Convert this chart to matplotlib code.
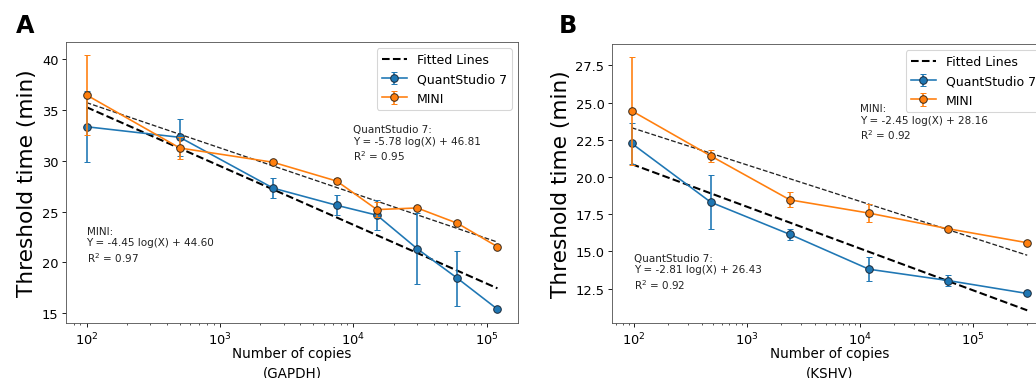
import numpy as np
import matplotlib
matplotlib.use("Agg")
import matplotlib.pyplot as plt

# ---- data: panel A (GAPDH) ----
a_copies = [100, 500, 2500, 7500, 15000, 30000, 60000, 120000]
a_qs = [33.33, 32.29, 27.3, 25.61, 24.64, 21.35, 18.45, 15.4]
a_qs_err = [3.5, 1.8, 1.0, 1.0, 1.5, 3.5, 2.7, 0.1]
a_mini = [36.45, 31.24, 29.84, 27.99, 25.19, 25.35, 23.85, 21.54]
a_mini_err = [3.95, 1.1, 0.2, 0.3, 0.7, 0.2, 0.2, 0.2]
a_qs_fit = (-5.78, 46.81, 0.95)
a_mini_fit = (-4.45, 44.60, 0.97)

# ---- data: panel B (KSHV) ----
b_copies = [96, 480, 2400, 12000, 60000, 300000]
b_qs = [22.25, 18.3, 16.14, 13.8, 13.04, 12.17]
b_qs_err = [1.4, 1.8, 0.35, 0.8, 0.4, 0.1]
b_mini = [24.44, 21.41, 18.46, 17.57, 16.52, 15.58]
b_mini_err = [3.64, 0.4, 0.5, 0.58, 0.15, 0.1]
b_qs_fit = (-2.81, 26.43, 0.92)
b_mini_fit = (-2.45, 28.16, 0.92)

DPI = 78
fig = plt.figure(figsize=(1036 / DPI, 379 / DPI), dpi=DPI)
plt.rcParams['font.family'] = ['DejaVu Sans']

axA = fig.add_axes([0.0637, 0.1451, 0.4363, 0.7414])
axB = fig.add_axes([0.5907, 0.1451, 0.4199, 0.7362])

BLUE = '#1f77b4'
ORANGE = '#ff7f0e'


def panel(ax, x, qs, qs_err, mini, mini_err, qs_fit, mini_fit, gene,
          qs_txt_pos, mini_txt_pos):
    x = np.asarray(x, dtype=float)
    xf = np.array([x.min(), x.max()])
    ax.plot(xf, qs_fit[0] * np.log10(xf) + qs_fit[1], '--', color='black',
            lw=1.9, label='Fitted Lines', zorder=1)
    ax.plot(xf, mini_fit[0] * np.log10(xf) + mini_fit[1], '--', color='#222222',
            lw=1.2, zorder=1)
    ax.errorbar(x, qs, yerr=qs_err, fmt='-o', color=BLUE, ecolor=BLUE,
                mec='#1a2a3a', mew=0.9, ms=7, lw=1.5, elinewidth=1.5,
                capsize=2.5, label='QuantStudio 7', zorder=2)
    ax.errorbar(x, mini, yerr=mini_err, fmt='-o', color=ORANGE, ecolor=ORANGE,
                mec='#3a2a1a', mew=0.9, ms=7, lw=1.5, elinewidth=1.5,
                capsize=2.5, label='MINI', zorder=3)
    ax.set_xscale('log')
    ax.text(qs_txt_pos[0], qs_txt_pos[1],
            'QuantStudio 7:\nY = %.2f log(X) + %.2f\nR$^2$ = %.2f' % qs_fit,
            fontsize=9.6, va='top', ha='left', color='#222222')
    ax.text(mini_txt_pos[0], mini_txt_pos[1],
            'MINI:\nY = %.2f log(X) + %.2f\nR$^2$ = %.2f' % mini_fit,
            fontsize=9.6, va='top', ha='left', color='#222222')
    ax.set_ylabel('Threshold time (min)', fontsize=20)
    ax.set_xlabel('Number of copies\n(%s)' % gene, fontsize=12.5, labelpad=-1.5,
                  linespacing=1.5)
    ax.tick_params(labelsize=12)
    for s in ax.spines.values():
        s.set_color('#555555')
    ax.legend(loc='upper right', fontsize=11.5)


panel(axA, a_copies, a_qs, a_qs_err, a_mini, a_mini_err, a_qs_fit, a_mini_fit,
      'GAPDH', (1e4, 33.6), (100, 23.6))
panel(axB, b_copies, b_qs, b_qs_err, b_mini, b_mini_err, b_qs_fit, b_mini_fit,
      'KSHV', (100, 14.9), (1e4, 24.95))
axA.set_yticks([15, 20, 25, 30, 35, 40])
axB.set_yticks([12.5, 15.0, 17.5, 20.0, 22.5, 25.0, 27.5])

fig.text(16 / 1036, 1 - 14 / 379, 'A', fontsize=22, fontweight='bold',
         va='top', ha='left')
fig.text(559 / 1036, 1 - 14 / 379, 'B', fontsize=22, fontweight='bold',
         va='top', ha='left')

fig.savefig('out.png', dpi=DPI)
